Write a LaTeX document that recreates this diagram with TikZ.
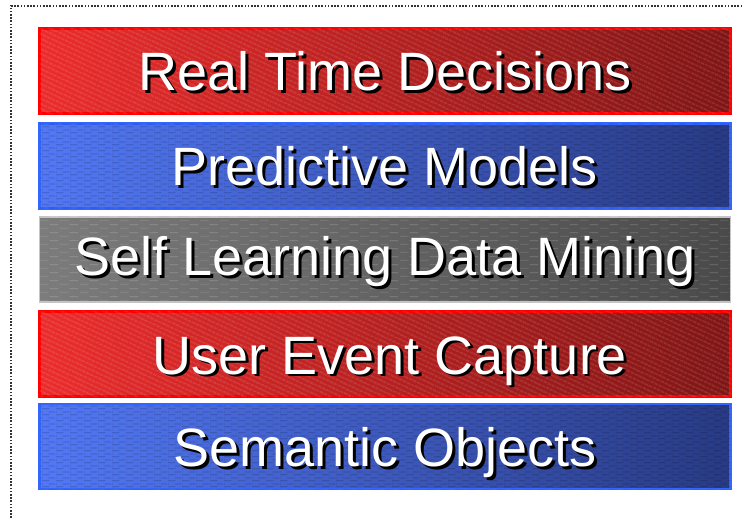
\documentclass[tikz,border=0pt]{standalone}
\usepackage{fontspec}
\setmainfont{Liberation Sans}
\usetikzlibrary{patterns.meta}
\definecolor{redline}{HTML}{FF0000}
\definecolor{redlight}{HTML}{EC2C2C}
\definecolor{reddark}{HTML}{801515}
\definecolor{blueline}{HTML}{3366FF}
\definecolor{bluelight}{HTML}{5278F6}
\definecolor{bluedark}{HTML}{283A84}
\definecolor{grayline}{HTML}{C4C4C4}
\definecolor{graylight}{HTML}{7C7C7C}
\definecolor{graydark}{HTML}{4A4A4A}
\definecolor{frameline}{HTML}{333333}
\pgfdeclarepattern{name=brickdash, type=uncolored,
  bottom left={\pgfpoint{0pt}{0pt}}, top right={\pgfpoint{14pt}{6pt}},
  tile size={\pgfpoint{14pt}{6pt}},
  code={\pgfsetlinewidth{0.9pt}%
    \pgfpathmoveto{\pgfpoint{0pt}{1.5pt}}\pgfpathlineto{\pgfpoint{8pt}{1.5pt}}%
    \pgfpathmoveto{\pgfpoint{7pt}{4.5pt}}\pgfpathlineto{\pgfpoint{14pt}{4.5pt}}%
    \pgfpathmoveto{\pgfpoint{0pt}{4.5pt}}\pgfpathlineto{\pgfpoint{1pt}{4.5pt}}%
    \pgfusepath{stroke}}}
\pgfdeclarepattern{name=graydash, type=uncolored,
  bottom left={\pgfpoint{0pt}{0pt}}, top right={\pgfpoint{20pt}{8pt}},
  tile size={\pgfpoint{20pt}{8pt}},
  code={\pgfsetlinewidth{0.9pt}%
    \pgfpathmoveto{\pgfpoint{0pt}{2pt}}\pgfpathlineto{\pgfpoint{9pt}{2pt}}%
    \pgfpathmoveto{\pgfpoint{10pt}{6pt}}\pgfpathlineto{\pgfpoint{19pt}{6pt}}%
    \pgfusepath{stroke}}}
\newcommand\shtxt[1]{\makebox[0pt][l]{\hspace{2.8pt}\raisebox{-2.8pt}{\color{black}#1}}{\color{white}#1}}
\tikzset{
  bar/.style={rectangle, minimum width=691pt, minimum height=85pt, inner sep=0pt, shading angle=80},
  redbar/.style={bar, draw=redline, line width=3pt, left color=redlight, right color=reddark,
    postaction={fill opacity=0.16, pattern={Lines[angle=-25,distance=4pt,line width=1.3pt]}, pattern color=white}},
  bluebar/.style={bar, draw=blueline, line width=2.5pt, left color=bluelight, right color=bluedark,
    postaction={fill opacity=0.22, pattern=brickdash, pattern color=black}},
  graybar/.style={bar, draw=grayline, line width=1.2pt, left color=graylight, right color=graydark,
    postaction={fill opacity=0.14, pattern=graydash, pattern color=white}},
  lbl/.style={anchor=base, inner sep=0pt, font=\fontsize{54}{60}\selectfont},
}
\begin{document}
\begin{tikzpicture}[x=1pt,y=-1pt]
\useasboundingbox (0,0) rectangle (744,518);
\draw[frameline, line width=1.6pt, dash pattern=on 1.6pt off 1.6pt] (11,518) -- (11,6) -- (744,6);
\node[redbar]  (b1) at (385,71)  {};
\node[bluebar] (b2) at (385,166) {};
\node[graybar] (b3) at (385,259.5) {};
\node[redbar]  (b4) at (385,354) {};
\node[bluebar] (b5) at (385,446.5) {};
\node[lbl] (t1) at ([yshift=-20pt]b1.center) {\shtxt{Real Time Decisions}};
\node[lbl] (t2) at ([yshift=-20pt]b2.center) {\shtxt{Predictive Models}};
\node[lbl] (t3) at ([yshift=-16pt]b3.center) {\shtxt{Self Learning Data Mining}};
\node[lbl] (t4) at ([xshift=5pt,yshift=-20pt]b4.center) {\shtxt{User Event Capture}};
\node[lbl] (t5) at ([yshift=-20pt]b5.center) {\shtxt{Semantic Objects}};
\end{tikzpicture}
\end{document}
